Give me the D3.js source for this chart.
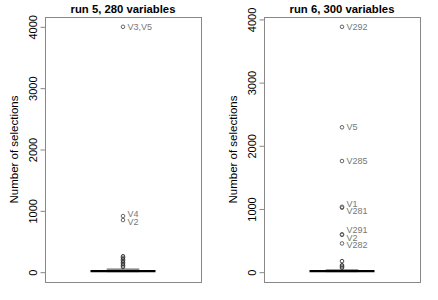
<!DOCTYPE html>
<head>
  <meta charset="utf-8">
  <script src="https://d3js.org/d3.v7.min.js"></script>
  <style>
    body { margin: 0; background: #fff; }
    svg { font-family: "Liberation Sans", Arial, sans-serif; }
    .frame { fill: none; stroke: #888; stroke-width: 1; }
    .axis path { display: none; }
    .axis line { stroke: #888; }
    .axis text { font-size: 11px; fill: #000; }
  </style>
</head>
<body>
<script>

// panel titles
var titles = ["run 5, 280 variables", "run 6, 300 variables"];
var yTicks = [0, 1000, 2000, 3000, 4000];

// box stats per panel: [q1, median, q3]
var boxStats = [[0, 16, 62], [0, 18, 48]];

// unlabelled outliers (small values stacked above the box)
var smallOutliers5 = [85, 110, 135, 160, 185, 210, 235, 260];
var smallOutliers6 = [70, 90, 110, 175];

// labelled outliers
var labOut5 = [
  {name: "V3,V5", value: 4000},
  {name: "V4", value: 915},
  {name: "V2", value: 850}
];
var labOut6 = [
  {name: "V292", value: 3883},
  {name: "V5", value: 2293},
  {name: "V285", value: 1759},
  {name: "V1", value: 1035},
  {name: "V281", value: 1020},
  {name: "V291", value: 600},
  {name: "V2", value: 590},
  {name: "V282", value: 455}
];

var panels = [
  {title: titles[0], box: boxStats[0], small: smallOutliers5, lab: labOut5, left: 45},
  {title: titles[1], box: boxStats[1], small: smallOutliers6, lab: labOut6, left: 264}
];

var W = 438, H = 300, pw = 156, plotTop = 17, plotBottom = 282;

var svg = d3.select("body").append("svg")
    .attr("width", W)
    .attr("height", H);

panels.forEach(function(p) {
  var all = p.small.concat(p.lab.map(function(d) { return d.value; })).concat(p.box);
  var lo = d3.min(all), hi = d3.max(all), pad = (hi - lo) * 0.04;

  var y = d3.scaleLinear().domain([lo - pad, hi + pad]).range([plotBottom, plotTop]);
  var x = d3.scaleLinear().domain([0.4, 1.6]).range([0, pw]);

  var g = svg.append("g").attr("transform", "translate(" + p.left + ",0)");

  g.append("rect").attr("class", "frame")
      .attr("x", 0.5).attr("y", plotTop + 0.5)
      .attr("width", pw).attr("height", plotBottom - plotTop);

  var ax = g.append("g").attr("class", "axis")
      .attr("transform", "translate(0.5,0)")
      .call(d3.axisLeft(y).tickValues(yTicks).tickSize(5).tickFormat(d3.format("d")));

  ax.selectAll(".tick text")
      .attr("x", null).attr("dy", null).attr("y", null)
      .attr("text-anchor", "middle")
      .attr("transform", "translate(-9,0) rotate(-90)");

  g.append("text")
      .attr("transform", "translate(" + (-27) + "," + ((plotTop + plotBottom) / 2) + ") rotate(-90)")
      .attr("text-anchor", "middle")
      .style("font-size", "11.5px")
      .text("Number of selections");

  g.append("text")
      .attr("x", pw / 2).attr("y", 12.5)
      .attr("text-anchor", "middle")
      .style("font-size", "11.3px")
      .style("font-weight", "bold")
      .text(p.title);

  var cx = x(1), bw = x(1.125) - x(0.875), mw = x(1.25) - x(0.75);

  g.append("rect")
      .attr("x", cx - bw / 2).attr("width", bw)
      .attr("y", y(p.box[2])).attr("height", y(p.box[0]) - y(p.box[2]))
      .style("fill", "#8a8a8a");

  g.append("line")
      .attr("x1", cx - mw / 2).attr("x2", cx + mw / 2)
      .attr("y1", y(p.box[1])).attr("y2", y(p.box[1]))
      .style("stroke", "#000").style("stroke-width", 2.2);

  g.selectAll(".small")
      .data(p.small)
    .enter().append("circle")
      .attr("cx", cx).attr("cy", function(d) { return y(d); })
      .attr("r", 1.8)
      .style("fill", "none").style("stroke", "#333").style("stroke-width", 0.9);

  g.selectAll(".lab")
      .data(p.lab)
    .enter().append("circle")
      .attr("cx", cx).attr("cy", function(d) { return y(d.value); })
      .attr("r", 1.8)
      .style("fill", "none").style("stroke", "#555").style("stroke-width", 0.9);

  // spread labels so they don't sit on top of each other
  var ly = p.lab.map(function(d) { return y(d.value); });
  for (var it = 0; it < 50; it++) {
    for (var i = 1; i < ly.length; i++) {
      var gap = ly[i] - ly[i - 1];
      if (gap < 7.5) {
        var m = (7.5 - gap) / 2;
        ly[i - 1] -= m; ly[i] += m;
      }
    }
  }

  g.selectAll(".labtext")
      .data(p.lab)
    .enter().append("text")
      .attr("x", cx + 4.5)
      .attr("y", function(d, i) { return ly[i]; })
      .attr("dy", "0.35em")
      .style("font-size", "9px")
      .style("fill", "#777")
      .text(function(d) { return d.name; });
});

</script>
</body>
